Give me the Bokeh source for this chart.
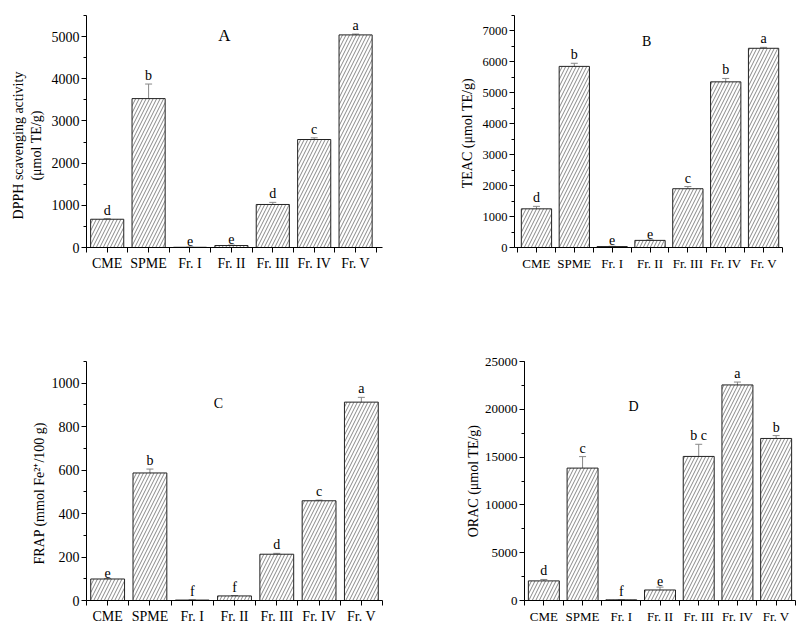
from bokeh.plotting import figure
from bokeh.models import (ColumnDataSource, Whisker, LabelSet, Label, FixedTicker,
                          SingleIntervalTicker, Range1d, TeeHead)
from bokeh.layouts import column, row
from bokeh.embed import file_html
from bokeh.resources import INLINE

categories = ["CME", "SPME", "Fr. I", "Fr. II", "Fr. III", "Fr. IV", "Fr. V"]

dpph = [670, 3530, 5, 47, 1020, 2560, 5040]
dpph_err = [15, 345, 0, 10, 50, 40, 20]
dpph_sig = ["d", "b", "e", "e", "d", "c", "a"]

teac = [1250, 5855, 30, 230, 1900, 5355, 6440]
teac_err = [80, 100, 10, 15, 70, 110, 30]
teac_sig = ["d", "b", "e", "e", "c", "b", "a"]

frap = [99, 587, 2, 21, 213, 459, 913]
frap_err = [2, 18, 1, 2, 4, 3, 22]
frap_sig = ["e", "b", "f", "f", "d", "c", "a"]

orac = [2050, 13850, 70, 1100, 15070, 22550, 16950]
orac_err = [150, 1200, 30, 300, 1270, 300, 300]
orac_sig = ["d", "c", "f", "e", "b c", "a", "b"]

FONT = "Liberation Serif"
NB = "\u00a0"


def panel(vals, errs, sigs, ylabel, ymax, interval, xr, letter, lpos, lsize,
          width, height, bl, br, bt, bb, standoff, ytick_size, xtick_size):
    n = len(categories)
    xs = list(range(n))
    src = ColumnDataSource(dict(
        x=xs, v=vals,
        up=[a + b for a, b in zip(vals, errs)],
        lo=[a - b for a, b in zip(vals, errs)],
        sig=sigs,
    ))
    p = figure(width=width, height=height, output_backend="svg", toolbar_location=None,
               x_range=Range1d(*xr), y_range=Range1d(0, ymax),
               min_border_left=bl, min_border_right=br, min_border_top=bt, min_border_bottom=bb)
    p.outline_line_color = None
    p.grid.visible = False
    p.background_fill_color = "white"
    p.border_fill_color = "white"

    p.vbar(x="x", top="v", bottom=0, width=0.8, source=src,
           fill_color="white", line_color="#222222", line_width=1,
           hatch_pattern="/", hatch_color="#555555", hatch_scale=7, hatch_weight=0.7)

    w = Whisker(base="x", upper="up", lower="lo", source=src,
                line_color="#888888", line_width=1,
                upper_head=TeeHead(size=7, line_color="#888888", line_width=1),
                lower_head=TeeHead(size=7, line_color="#888888", line_width=1))
    p.add_layout(w)

    ls = LabelSet(x="x", y="up", text="sig", source=src, y_offset=1,
                  text_align="center", text_baseline="bottom",
                  text_font=FONT, text_font_size="14px", text_color="black")
    p.add_layout(ls)

    p.add_layout(Label(x=lpos[0], y=lpos[1], text=letter, text_font=FONT,
                       text_font_size=lsize, text_align="center", text_baseline="middle",
                       text_color="black"))

    p.xaxis.ticker = FixedTicker(ticks=xs, minor_ticks=[i + 0.5 for i in range(-1, n)])
    p.xaxis.major_label_overrides = {i: c for i, c in enumerate(categories)}
    p.yaxis.ticker = SingleIntervalTicker(interval=interval, num_minor_ticks=2)
    for ax in (p.xaxis, p.yaxis):
        ax.axis_line_color = "black"
        ax.major_tick_line_color = "black"
        ax.minor_tick_line_color = "black"
        ax.major_tick_out = 5
        ax.major_tick_in = 0
        ax.minor_tick_out = 3
        ax.minor_tick_in = 0
        ax.major_label_text_font = FONT
        ax.major_label_text_color = "black"
        ax.axis_label_text_font = FONT
        ax.axis_label_text_font_style = "normal"
        ax.axis_label_text_color = "black"
    p.xaxis.minor_tick_out = 5
    p.xaxis.major_label_text_font_size = xtick_size
    p.xaxis.major_label_standoff = 3
    p.yaxis.major_label_text_font_size = ytick_size
    p.yaxis.major_label_standoff = 2
    p.yaxis.axis_label = ylabel
    p.yaxis.axis_label_text_font_size = "14px"
    p.yaxis.axis_label_standoff = standoff
    return p


pA = panel(dpph, dpph_err, dpph_sig,
           "DPPH scavenging activity" + NB * 8 + "\n(μmol TE/g)" + NB * 8, 5500, 1000,
           (-0.5, 6.65), "A", (2.83, 5020), "17px", 400, 320, 86, 18, 15, 72, 5, "14px", "14px")
pB = panel(teac, teac_err, teac_sig, "TEAC  (μmol TE/g)", 7500, 1000,
           (-0.58, 6.5), "B", (2.91, 6660), "14px", 400, 320, 114, 18, 8, 73, 5, "12.5px", "13px")
pC = panel(frap, frap_err, frap_sig, "FRAP (mmol Fe²⁺/100 g)" + NB * 7, 1100, 200,
           (-0.5, 6.5), "C", (2.62, 906), "14px", 400, 309, 86, 18, 41, 28, 2, "14px", "14px")
pD = panel(orac, orac_err, orac_sig, "ORAC (μmol TE/g)", 25000, 5000,
           (-0.5, 6.5), "D", (2.32, 20330), "14px", 400, 309, 124, 5, 37, 29, 1, "13px", "13px")

layout = column(row(pA, pB), row(pC, pD))

with open("out.html", "w") as f:
    f.write(file_html(layout, INLINE))
